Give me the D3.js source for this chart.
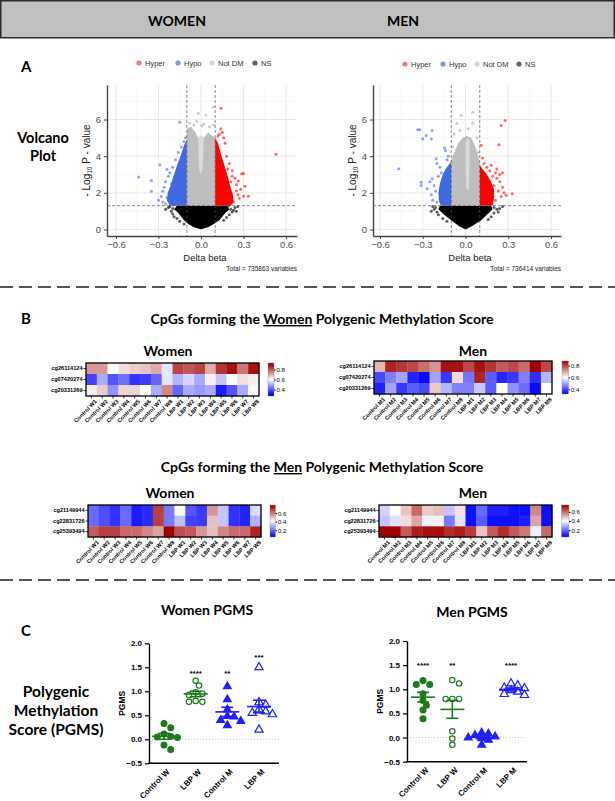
<!DOCTYPE html>
<html><head><meta charset="utf-8">
<script src="https://cdn.jsdelivr.net/npm/d3@7"></script>
<style>body{margin:0;background:#fff}svg{display:block}</style>
</head><body><svg id="c" width="615" height="801"></svg>
<script>
// ---------------- DATA ----------------
const headerLabels = ["WOMEN", "MEN"];
const sectionLabels = ["A", "B", "C"];
const volcanoLegend = ["Hyper", "Hypo", "Not DM", "NS"];
const volcanoXTicks = [-0.6, -0.3, 0.0, 0.3, 0.6];
const volcanoYTicks = [0, 2, 4, 6];
const volcanoMinorX = [-0.45, -0.15, 0.15, 0.45];
const volcanoMinorY = [1, 3, 5, 7];
const volcanoTotals = ["Total = 735863 variables", "Total = 736414 variables"];
const deltaBetaCut = 0.1;
const logPCut = 1.3;

// Women volcano: dense-region outlines [delta beta, -log10 p] and sparse points
const womenNSArea = [[-0.17,1.3],[-0.19,1.1],[-0.16,0.9],[-0.14,0.7],[-0.12,0.5],[-0.09,0.3],[-0.05,0.12],[0,0.02],[0.05,0.12],[0.09,0.3],[0.13,0.5],[0.15,0.7],[0.17,0.9],[0.2,1.1],[0.18,1.3]];
const womenNotDMArea = [[-0.1,1.3],[-0.1,5.5],[-0.07,5.6],[-0.04,5.3],[-0.02,5.0],[0,4.8],[0.02,5.0],[0.05,5.3],[0.08,5.1],[0.1,5.0],[0.1,1.3]];
const womenNotDMCore = [[-0.015,3.3],[-0.02,5.0],[0,5.2],[0.02,5.0],[0.012,3.3],[0,3.0]];
const womenHypoArea = [[-0.1,1.3],[-0.1,4.9],[-0.12,4.6],[-0.145,4.0],[-0.165,3.6],[-0.19,3.0],[-0.215,2.4],[-0.235,2.0],[-0.24,1.6],[-0.22,1.3]];
const womenHyperArea = [[0.1,1.3],[0.1,5.0],[0.12,4.7],[0.145,4.0],[0.165,3.5],[0.185,3.0],[0.205,2.4],[0.225,1.9],[0.23,1.5],[0.21,1.3]];
const womenNSPts = [[-0.23,1.2],[-0.21,1.0],[-0.2,0.85],[-0.19,0.7],[-0.17,0.6],[-0.22,1.25],[-0.2,1.15],[0.19,1.25],[0.21,1.1],[0.22,0.95],[0.2,0.8],[0.24,1.2],[0.26,1.25],[0.23,1.05],[0.18,0.65],[0.16,0.5],[-0.15,0.45],[-0.12,0.3],[0.25,1.0],[-0.25,1.1]];
const womenNotDMPts = [[-0.02,6.34],[0.035,6.24],[0.087,6.67],[0.005,5.66],[-0.05,5.7],[-0.08,5.8],[0.06,5.6],[-0.03,5.9],[0.09,5.7],[0.02,5.75]];
const womenHypoPts = [[-0.15,5.85],[-0.44,2.86],[-0.35,2.67],[-0.35,2.09],[-0.29,3.53],[-0.24,3.28],[-0.27,2.09],[-0.26,2.3],[-0.25,2.6],[-0.23,2.9],[-0.22,3.1],[-0.21,2.5],[-0.28,1.8],[-0.3,1.6],[-0.27,1.5],[-0.25,1.4],[-0.24,1.75],[-0.2,3.4],[-0.18,3.8],[-0.16,4.2],[-0.14,4.5],[-0.12,4.8],[-0.11,5.0],[-0.22,2.0],[-0.19,2.2]];
const womenHyperPts = [[0.529,4.10],[0.141,6.61],[0.31,2.36],[0.334,1.81],[0.287,3.04],[0.30,1.81],[0.263,2.64],[0.13,5.2],[0.15,5.3],[0.16,5.0],[0.14,5.5],[0.12,5.1],[0.17,4.7],[0.18,4.0],[0.2,3.6],[0.22,3.2],[0.24,2.8],[0.25,2.1],[0.27,1.7],[0.23,1.5],[0.21,2.6],[0.19,3.3],[0.28,2.2],[0.26,1.9],[0.3,3.05],[0.22,2.9],[0.25,2.45]];

// Men volcano
const menNSArea = [[-0.18,1.3],[-0.19,1.1],[-0.15,0.8],[-0.1,0.5],[-0.05,0.2],[0,0.0],[0.05,0.2],[0.11,0.5],[0.15,0.8],[0.19,1.1],[0.18,1.3]];
const menNotDMArea = [[-0.1,1.3],[-0.1,3.8],[-0.08,4.2],[-0.05,4.7],[-0.02,5.0],[0.01,5.1],[0.04,5.0],[0.07,4.5],[0.1,3.7],[0.1,1.3]];
const menNotDMCore = [[0.005,2.2],[0.0,4.8],[0.02,5.0],[0.03,4.8],[0.025,2.2]];
const menHypoArea = [[-0.1,1.3],[-0.1,3.7],[-0.12,3.5],[-0.14,3.3],[-0.16,3.0],[-0.18,2.5],[-0.19,2.0],[-0.185,1.5],[-0.17,1.3]];
const menHyperArea = [[0.1,1.3],[0.1,3.5],[0.12,3.3],[0.15,3.0],[0.18,2.6],[0.2,2.2],[0.2,1.7],[0.19,1.3]];
const menNSPts = [[-0.23,1.25],[-0.22,1.1],[-0.2,0.95],[-0.24,1.0],[-0.19,0.8],[-0.21,1.2],[0.2,1.2],[0.22,1.1],[0.24,1.15],[0.26,1.25],[0.2,0.9],[0.18,0.7],[0.23,0.95],[0.16,0.55],[-0.16,0.6],[-0.13,0.45]];
const menNotDMPts = [[-0.03,6.22],[0.05,6.4],[0.05,5.8],[-0.06,5.8],[-0.08,5.2],[0.02,5.5],[-0.04,5.4],[0.08,5.0],[-0.09,4.5],[0.09,4.2]];
const menHypoPts = [[-0.468,3.31],[-0.335,5.44],[-0.32,5.44],[-0.30,4.95],[-0.276,5.13],[-0.234,5.40],[-0.24,4.93],[-0.311,2.58],[-0.311,2.4],[-0.269,2.22],[-0.234,2.77],[-0.206,3.86],[-0.147,4.44],[-0.14,4.3],[-0.2,3.6],[-0.18,3.4],[-0.13,3.8],[-0.12,4.0],[-0.22,2.4],[-0.21,2.1],[-0.24,1.9],[-0.23,1.6],[-0.2,1.5],[-0.25,2.6],[-0.19,2.9],[-0.17,3.1],[-0.16,2.7]];
const menHyperPts = [[0.278,5.95],[0.25,5.67],[0.234,4.62],[0.328,1.95],[0.285,1.87],[0.11,4.6],[0.21,3.1],[0.13,3.6],[0.15,3.4],[0.17,3.2],[0.19,2.9],[0.22,2.8],[0.24,2.6],[0.26,2.3],[0.27,2.0],[0.23,2.1],[0.25,1.8],[0.21,1.6],[0.22,3.3],[0.18,3.5],[0.12,3.9],[0.2,2.4],[0.24,3.0],[0.26,3.1]];

// Heatmaps
const heatTitles = ["CpGs forming the ", "Women", "Men", " Polygenic Methylation Score"];
const womenScoreCpGs = ["cg26114124", "cg07420274", "cg20331269"];
const menScoreCpGs = ["cg21149944", "cg22831726", "cg25393494"];
const womenSamples = ["Control W1","Control W2","Control W3","Control W4","Control W5","Control W6","Control W7","Control W8","LBP W1","LBP W2","LBP W3","LBP W4","LBP W5","LBP W6","LBP W7","LBP W8"];
const menSamples = ["Control M1","Control M2","Control M3","Control M4","Control M5","Control M6","Control M7","Control M8","LBP M1","LBP M2","LBP M3","LBP M4","LBP M5","LBP M6","LBP M7","LBP M8"];
const heatWomenWomenCpG = [
  [0.72,0.72,0.60,0.64,0.66,0.67,0.70,0.57, 0.82,0.80,0.82,0.70,0.84,0.88,0.76,0.88],
  [0.38,0.50,0.40,0.43,0.36,0.37,0.42,0.57, 0.51,0.55,0.50,0.62,0.53,0.60,0.64,0.62],
  [0.62,0.66,0.47,0.65,0.65,0.60,0.50,0.74, 0.42,0.50,0.48,0.50,0.33,0.40,0.50,0.61]];
const heatMenWomenCpG = [
  [0.68,0.84,0.82,0.80,0.76,0.72,0.86,0.86, 0.80,0.86,0.82,0.78,0.80,0.76,0.90,0.80],
  [0.40,0.46,0.50,0.36,0.33,0.50,0.38,0.64, 0.45,0.84,0.42,0.36,0.38,0.46,0.37,0.52],
  [0.36,0.50,0.38,0.42,0.40,0.66,0.52,0.46, 0.46,0.54,0.42,0.60,0.48,0.44,0.33,0.60]];
const heatWomenMenCpG = [
  [0.20,0.16,0.12,0.20,0.09,0.11,0.68,0.22, 0.42,0.17,0.13,0.56,0.33,0.12,0.10,0.36],
  [0.20,0.16,0.12,0.20,0.09,0.11,0.68,0.22, 0.32,0.14,0.13,0.50,0.33,0.12,0.10,0.30],
  [0.64,0.68,0.68,0.62,0.62,0.58,0.54,0.78, 0.66,0.64,0.56,0.50,0.58,0.62,0.62,0.72]];
const heatMenMenCpG = [
  [0.34,0.40,0.48,0.60,0.47,0.49,0.32,0.44, 0.08,0.20,0.10,0.10,0.08,0.08,0.56,0.08],
  [0.32,0.36,0.45,0.52,0.38,0.42,0.22,0.36, 0.08,0.18,0.08,0.08,0.08,0.10,0.52,0.08],
  [0.76,0.74,0.62,0.70,0.72,0.72,0.68,0.70, 0.66,0.48,0.62,0.68,0.62,0.58,0.38,0.60]];
const heatTicksUpper = [0.4, 0.6, 0.8];
const heatTicksLower = [0.2, 0.4, 0.6];

// PGMS
const pgmsGroups = ["Control W", "LBP W", "Control M", "LBP M"];
const pgmsYTicks = [-0.5, 0.0, 0.5, 1.0, 1.5, 2.0];
const womenPGMS = [
  [0.33, 0.24, 0.11, 0.06, 0.05, 0.04, -0.12, -0.21],
  [1.22, 1.12, 0.98, 0.95, 0.92, 0.80, 0.78, 0.78],
  [1.10, 0.83, 0.62, 0.48, 0.47, 0.40, 0.38, 0.29],
  [1.50, 0.77, 0.72, 0.62, 0.58, 0.55, 0.52, 0.20]];
const menPGMS = [
  [1.18, 1.10, 1.10, 0.91, 0.77, 0.67, 0.57, 0.39],
  [1.19, 1.12, 0.80, 0.80, 0.80, 0.13, -0.02, -0.15],
  [0.10, 0.08, 0.05, 0.02, 0.00, -0.02, -0.05, -0.15],
  [1.12, 1.08, 1.03, 1.02, 0.98, 0.95, 0.90, 0.88]];
const womenStars = ["", "****", "**", "***"];
const womenStarLevel = [null, 1.38, 1.38, 1.72];
const menStars = ["****", "**", "", "****"];
const menStarLevel = [1.5, 1.5, null, 1.5];
const sideLabels = [["Volcano", "Plot"], ["Polygenic", "Methylation", "Score (PGMS)"]];

// ---------------- DRAWING ----------------
const svg = d3.select("#c");
const TF = "Lato, 'Open Sans', sans-serif";
const AF = "'Liberation Sans', Arial, Helvetica, sans-serif";
const defs = svg.append("defs");

// header
svg.append("rect").attr("x", 0.75).attr("y", 0.75).attr("width", 613.5).attr("height", 37)
  .attr("fill", "#bfbfbf").attr("stroke", "#2b2b2b").attr("stroke-width", 1.5);
[177, 403].forEach((cx, i) => svg.append("text").attr("x", cx).attr("y", 26)
  .attr("text-anchor", "middle").attr("font-family", TF).attr("font-weight", 700)
  .attr("font-size", 14).text(headerLabels[i]));

// section letters
[72, 324, 636].forEach((yy, i) => svg.append("text").attr("x", 21).attr("y", yy)
  .attr("font-family", TF).attr("font-weight", 700).attr("font-size", 15).text(sectionLabels[i]));

// separators
[287, 580].forEach(yy => svg.append("line").attr("x1", 0).attr("x2", 615).attr("y1", yy).attr("y2", yy)
  .attr("stroke", "#555").attr("stroke-width", 2).attr("stroke-dasharray", "13,6"));

// side labels
function sideLabel(lines, cx, y0, dy, fs) {
  lines.forEach((t, i) => svg.append("text").attr("x", cx).attr("y", y0 + i * dy)
    .attr("text-anchor", "middle").attr("font-family", TF).attr("font-weight", 700)
    .attr("font-size", fs).text(t));
}
sideLabel(sideLabels[0], 43, 143, 18, 14.5);
sideLabel(sideLabels[1], 56, 697, 19, 15.5);

// ---------- volcano ----------
function drawVolcano(cfg, d) {
  const g = svg.append("g");
  const xa = d3.scaleLinear().domain([-0.6, 0.6]).range(cfg.xAnchor);
  const ya = d3.scaleLinear().domain([0, 6]).range(cfg.yAnchor);
  const x = d3.scaleLinear().domain([xa.invert(cfg.left), xa.invert(cfg.right)]).range([cfg.left, cfg.right]);
  const y = d3.scaleLinear().domain([ya.invert(cfg.bottom), ya.invert(cfg.top)]).range([cfg.bottom, cfg.top]);
  const cid = "clip" + cfg.id;
  defs.append("clipPath").attr("id", cid).append("rect")
    .attr("x", cfg.left).attr("y", cfg.top).attr("width", cfg.right - cfg.left).attr("height", cfg.bottom - cfg.top);
  const grid = g.append("g");
  volcanoMinorX.forEach(v => grid.append("line").attr("x1", x(v)).attr("x2", x(v)).attr("y1", cfg.top).attr("y2", cfg.bottom).attr("stroke", "#f2f2f2").attr("stroke-width", 0.6));
  volcanoMinorY.forEach(v => grid.append("line").attr("y1", y(v)).attr("y2", y(v)).attr("x1", cfg.left).attr("x2", cfg.right).attr("stroke", "#f2f2f2").attr("stroke-width", 0.6));
  volcanoXTicks.forEach(v => grid.append("line").attr("x1", x(v)).attr("x2", x(v)).attr("y1", cfg.top).attr("y2", cfg.bottom).attr("stroke", "#e6e6e6").attr("stroke-width", 0.9));
  volcanoYTicks.forEach(v => grid.append("line").attr("y1", y(v)).attr("y2", y(v)).attr("x1", cfg.left).attr("x2", cfg.right).attr("stroke", "#e6e6e6").attr("stroke-width", 0.9));

  const pg = g.append("g").attr("clip-path", `url(#${cid})`);
  const area = d3.line().x(p => x(p[0])).y(p => y(p[1])).curve(d3.curveLinearClosed);
  const dots = (arr, col) => pg.append("g").selectAll("circle").data(arr).join("circle")
    .attr("cx", p => x(p[0])).attr("cy", p => y(p[1])).attr("r", 1.5).attr("fill", col);
  pg.append("path").attr("d", area(d.ns)).attr("fill", "#000");
  dots(d.nsPts, "rgba(40,40,40,0.75)");
  pg.append("path").attr("d", area(d.notDM)).attr("fill", "#bebebe");
  pg.append("path").attr("d", area(d.notDMCore)).attr("fill", "#dadada");
  dots(d.notDMPts, "rgba(190,190,190,0.8)");
  pg.append("path").attr("d", area(d.hypo)).attr("fill", "#4169e1");
  dots(d.hypoPts, "rgba(65,105,225,0.6)");
  pg.append("path").attr("d", area(d.hyper)).attr("fill", "#ff0000");
  dots(d.hyperPts, "rgba(255,0,0,0.6)");
  [-deltaBetaCut, deltaBetaCut].forEach(v => pg.append("line").attr("x1", x(v)).attr("x2", x(v)).attr("y1", cfg.top).attr("y2", cfg.bottom)
    .attr("stroke", "#555").attr("stroke-width", 0.7).attr("stroke-dasharray", "3,2"));
  pg.append("line").attr("x1", cfg.left).attr("x2", cfg.right).attr("y1", y(logPCut)).attr("y2", y(logPCut))
    .attr("stroke", "#555").attr("stroke-width", 0.7).attr("stroke-dasharray", "3,2");

  const ax = g.append("g").attr("transform", `translate(0,${cfg.bottom})`)
    .call(d3.axisBottom(x).tickValues(volcanoXTicks).tickFormat(d3.format(".1f")).tickSize(3).tickPadding(2).tickSizeOuter(0));
  const ay = g.append("g").attr("transform", `translate(${cfg.left},0)`)
    .call(d3.axisLeft(y).tickValues(volcanoYTicks).tickFormat(d3.format("d")).tickSize(3).tickSizeOuter(0));
  [ax, ay].forEach(a => {
    a.select(".domain").attr("stroke", "#444").attr("stroke-width", 1.4);
    a.selectAll(".tick line").attr("stroke", "#444");
    a.selectAll("text").attr("font-family", AF).attr("font-size", 9.5).attr("fill", "#4d4d4d");
  });
  g.append("text").attr("x", (cfg.left + cfg.right) / 2 + 3).attr("y", cfg.bottom + 25).attr("text-anchor", "middle")
    .attr("font-family", AF).attr("font-size", 9.5).attr("fill", "#222").text("Delta beta");
  g.append("text").attr("x", cfg.right).attr("y", cfg.bottom + 35).attr("text-anchor", "end")
    .attr("font-family", AF).attr("font-size", 6.5).attr("fill", "#222").text(d.total);
  const yt = g.append("text").attr("transform", `translate(${cfg.left - 17},${(cfg.top + cfg.bottom) / 2}) rotate(-90)`)
    .attr("text-anchor", "middle").attr("font-family", AF).attr("font-size", 10).attr("fill", "#222");
  yt.append("tspan").text("- Log");
  yt.append("tspan").attr("font-size", 6.5).attr("dy", 2).text("10");
  yt.append("tspan").attr("dy", -2).text(" P - value");
  // legend
  const lc = ["#f47a7a", "#7b9be8", "#d6d6d6", "#666"];
  volcanoLegend.forEach((t, i) => {
    g.append("circle").attr("cx", cfg.legendX[i]).attr("cy", cfg.legendY).attr("r", 2.6).attr("fill", lc[i]);
    g.append("text").attr("x", cfg.legendX[i] + 6).attr("y", cfg.legendY + 2.7).attr("font-family", AF)
      .attr("font-size", 7.5).attr("fill", "#333").text(t);
  });
}
drawVolcano({id: "w", xAnchor: [116, 286], yAnchor: [229.5, 119.5], left: 107, right: 297, top: 85, bottom: 236, legendY: 63, legendX: [139, 178, 212, 255]},
  {ns: womenNSArea, nsPts: womenNSPts, notDM: womenNotDMArea, notDMCore: womenNotDMCore, notDMPts: womenNotDMPts,
   hypo: womenHypoArea, hypoPts: womenHypoPts, hyper: womenHyperArea, hyperPts: womenHyperPts, total: volcanoTotals[0]});
drawVolcano({id: "m", xAnchor: [380, 551], yAnchor: [229.5, 119.5], left: 373, right: 561, top: 85, bottom: 236, legendY: 64, legendX: [405, 443, 477, 519]},
  {ns: menNSArea, nsPts: menNSPts, notDM: menNotDMArea, notDMCore: menNotDMCore, notDMPts: menNotDMPts,
   hypo: menHypoArea, hypoPts: menHypoPts, hyper: menHyperArea, hyperPts: menHyperPts, total: volcanoTotals[1]});

// ---------- heatmaps ----------
function sectionTitle(cx, yy, who) {
  const t = svg.append("text").attr("x", cx).attr("y", yy).attr("text-anchor", "middle")
    .attr("font-family", TF).attr("font-weight", 700).attr("font-size", 14);
  t.append("tspan").text(heatTitles[0]);
  t.append("tspan").attr("text-decoration", "underline").text(who);
  t.append("tspan").text(heatTitles[3]);
}
sectionTitle(322, 324, heatTitles[1]);
sectionTitle(322, 472, heatTitles[2]);

let gradN = 0;
function drawHeat(cfg, rows, cols, vals) {
  const g = svg.append("g");
  const color = d3.scaleLinear().domain(cfg.cdom).range(["#0000ff", "#ffffff", "#a00000"]).clamp(true);
  const x = d3.scaleBand().domain(cols).range([cfg.x0, cfg.x1]);
  const y = d3.scaleBand().domain(rows).range([cfg.y0, cfg.y1]);
  g.append("text").attr("x", cfg.tx).attr("y", cfg.ty).attr("text-anchor", "middle").attr("font-family", TF)
    .attr("font-weight", 700).attr("font-size", 14).text(cfg.title);
  rows.forEach((r, i) => cols.forEach((c, j) => g.append("rect").attr("x", x(c)).attr("y", y(r))
    .attr("width", x.bandwidth() + 0.3).attr("height", y.bandwidth() + 0.3).attr("fill", color(vals[i][j]))));
  g.append("rect").attr("x", cfg.x0).attr("y", cfg.y0).attr("width", cfg.x1 - cfg.x0).attr("height", cfg.y1 - cfg.y0)
    .attr("fill", "none").attr("stroke", "#000").attr("stroke-width", 1.3);
  const ay = g.append("g").attr("transform", `translate(${cfg.x0},0)`).call(d3.axisLeft(y).tickSize(2.5).tickPadding(1));
  ay.select(".domain").remove();
  ay.selectAll("line").attr("stroke", "#000").attr("stroke-width", 0.8);
  ay.selectAll("text").attr("font-family", AF).attr("font-weight", 700).attr("font-size", 5.6).attr("fill", "#000");
  const axb = g.append("g").attr("transform", `translate(0,${cfg.y1})`).call(d3.axisBottom(x).tickSize(2.5));
  axb.select(".domain").remove();
  axb.selectAll("line").attr("stroke", "#000").attr("stroke-width", 0.8);
  axb.selectAll("text").attr("font-family", AF).attr("font-weight", 700).attr("font-size", 5.6).attr("fill", "#000")
    .attr("text-anchor", "end").attr("dy", 0).attr("transform", "translate(2,2) rotate(-45)");
  // colour bar
  const cb = d3.scaleLinear().domain(cfg.cbDom).range([cfg.cbB, cfg.cbT]);
  const gid = "grad" + (gradN++);
  const gr = defs.append("linearGradient").attr("id", gid).attr("x1", 0).attr("y1", 1).attr("x2", 0).attr("y2", 0);
  d3.range(0, 1.0001, 0.05).forEach(t => gr.append("stop").attr("offset", t)
    .attr("stop-color", color(cfg.cbDom[0] + t * (cfg.cbDom[1] - cfg.cbDom[0]))));
  g.append("rect").attr("x", cfg.cbX).attr("y", cfg.cbT).attr("width", cfg.cbW).attr("height", cfg.cbB - cfg.cbT)
    .attr("fill", `url(#${gid})`).attr("stroke", "#888").attr("stroke-width", 0.4);
  const ac = g.append("g").attr("transform", `translate(${cfg.cbX + cfg.cbW},0)`)
    .call(d3.axisRight(cb).tickValues(cfg.ticks).tickFormat(d3.format(".1f")).tickSize(1.5).tickPadding(1));
  ac.select(".domain").remove();
  ac.selectAll("line").attr("stroke", "#000");
  ac.selectAll("text").attr("font-family", AF).attr("font-size", 6).attr("fill", "#000");
}
drawHeat({title: "Women", tx: 168, ty: 356, x0: 86, x1: 259, y0: 363, y1: 396, cdom: [0.3, 0.6, 0.9],
  cbX: 268, cbW: 6, cbT: 363, cbB: 396, cbDom: [0.27, 0.93], ticks: heatTicksUpper},
  womenScoreCpGs, womenSamples, heatWomenWomenCpG);
drawHeat({title: "Men", tx: 473, ty: 356, x0: 374, x1: 552, y0: 361, y1: 394, cdom: [0.32, 0.6, 0.88],
  cbX: 562, cbW: 6.5, cbT: 361, cbB: 394, cbDom: [0.32, 0.88], ticks: heatTicksUpper},
  womenScoreCpGs, menSamples, heatMenWomenCpG);
drawHeat({title: "Women", tx: 170, ty: 498, x0: 88, x1: 261, y0: 505, y1: 537, cdom: [0.05, 0.41, 0.77],
  cbX: 270, cbW: 5.5, cbT: 505, cbB: 537, cbDom: [0.04, 0.79], ticks: heatTicksLower},
  menScoreCpGs, womenSamples, heatWomenMenCpG);
drawHeat({title: "Men", tx: 473, ty: 498, x0: 379, x1: 552, y0: 505, y1: 537, cdom: [0.06, 0.40, 0.74],
  cbX: 561.5, cbW: 7.5, cbT: 505, cbB: 537, cbDom: [0.05, 0.75], ticks: heatTicksLower},
  menScoreCpGs, menSamples, heatMenMenCpG);

// ---------- PGMS ----------
const GREEN = "#1c7a1c", BLUE = "#1f1fff";
const groupStyle = [
  {c: GREEN, filled: true, tri: false}, {c: GREEN, filled: false, tri: false},
  {c: BLUE, filled: true, tri: true}, {c: BLUE, filled: false, tri: true}];
function swarm(vals, y, cx, r) {
  const idx = vals.map((v, i) => i).sort((a, b) => vals[b] - vals[a]);
  const placed = [], xs = [];
  idx.forEach(i => {
    const py = y(vals[i]);
    for (let k = 0; k < 30; k++) {
      const off = (k === 0 ? 0 : (k % 2 ? 1 : -1) * Math.ceil(k / 2)) * r * 1.2;
      if (placed.every(p => Math.hypot(p.x - (cx + off), p.y - py) >= 2 * r)) {
        xs[i] = cx + off; placed.push({x: cx + off, y: py}); break;
      }
    }
  });
  return xs;
}
function drawPGMS(cfg, data, stars, starLv) {
  const g = svg.append("g");
  const y = d3.scaleLinear().domain([-0.5, 2.0]).range([cfg.bottom, cfg.top]);
  const x = d3.scalePoint().domain(pgmsGroups).range(cfg.centers);
  g.append("text").attr("x", cfg.tx).attr("y", cfg.ty).attr("text-anchor", "middle").attr("font-family", TF)
    .attr("font-weight", 700).attr("font-size", 14).text(cfg.title);
  g.append("line").attr("x1", cfg.left).attr("x2", cfg.right).attr("y1", y(0)).attr("y2", y(0))
    .attr("stroke", "#bdbdbd").attr("stroke-width", 0.9).attr("stroke-dasharray", "1,2");
  const ay = g.append("g").attr("transform", `translate(${cfg.left},0)`)
    .call(d3.axisLeft(y).tickValues(pgmsYTicks).tickFormat(d3.format(".1f")).tickSize(4).tickSizeOuter(0));
  ay.select(".domain").attr("stroke", "#000").attr("stroke-width", 1.4);
  ay.selectAll("line").attr("stroke", "#000").attr("stroke-width", 1.2);
  ay.selectAll("text").attr("font-family", AF).attr("font-weight", 700).attr("font-size", 8).attr("fill", "#000");
  g.append("line").attr("x1", cfg.left - 0.7).attr("x2", cfg.right).attr("y1", cfg.bottom).attr("y2", cfg.bottom)
    .attr("stroke", "#000").attr("stroke-width", 1.4);
  pgmsGroups.forEach((grp, i) => {
    g.append("text").attr("transform", `translate(${x(grp) + 4},${cfg.bottom + 7}) rotate(-45)`)
      .attr("text-anchor", "end").attr("dy", "0.35em").attr("font-family", AF).attr("font-weight", 700)
      .attr("font-size", 8).text(grp);
  });
  g.append("text").attr("transform", `translate(${cfg.ylx},${y(0.75)}) rotate(-90)`).attr("text-anchor", "middle")
    .attr("font-family", AF).attr("font-weight", 700).attr("font-size", 8.5).text("PGMS");
  data.forEach((vals, i) => {
    const st = groupStyle[i];
    const cx = x(pgmsGroups[i]);
    const r = 2.8;
    const xs = swarm(vals, y, cx, r);
    vals.forEach((v, k) => {
      if (st.tri) {
        g.append("path").attr("d", d3.symbol(d3.symbolTriangle, st.filled ? 26 : 30)())
          .attr("transform", `translate(${xs[k]},${y(v)})`)
          .attr("fill", st.filled ? st.c : "none").attr("stroke", st.c).attr("stroke-width", 1.2);
      } else {
        g.append("circle").attr("cx", xs[k]).attr("cy", y(v)).attr("r", st.filled ? 2.9 : 2.7)
          .attr("fill", st.filled ? st.c : "none").attr("stroke", st.c).attr("stroke-width", 1.2);
      }
    });
    const m = d3.mean(vals), se = d3.deviation(vals) / Math.sqrt(vals.length);
    const lc = st.c;
    g.append("line").attr("x1", cx - 12).attr("x2", cx + 12).attr("y1", y(m)).attr("y2", y(m)).attr("stroke", lc).attr("stroke-width", 1.6);
    g.append("line").attr("x1", cx).attr("x2", cx).attr("y1", y(m - se)).attr("y2", y(m + se)).attr("stroke", lc).attr("stroke-width", 1.6);
    [m - se, m + se].forEach(v => g.append("line").attr("x1", cx - 6).attr("x2", cx + 6).attr("y1", y(v)).attr("y2", y(v)).attr("stroke", lc).attr("stroke-width", 1.6));
    if (stars[i]) g.append("text").attr("x", cx).attr("y", y(starLv[i]) + 3).attr("text-anchor", "middle")
      .attr("font-family", AF).attr("font-weight", 700).attr("font-size", 8).text(stars[i]);
  });
}
drawPGMS({title: "Women PGMS", tx: 207, ty: 615, left: 149, right: 279, top: 643.3, bottom: 763.3, centers: [164, 259], ylx: 125},
  womenPGMS, womenStars, womenStarLevel);
drawPGMS({title: "Men PGMS", tx: 472, ty: 617, left: 407, right: 527, top: 641, bottom: 761.7, centers: [423, 511], ylx: 383},
  menPGMS, menStars, menStarLevel);
</script></body></html>
